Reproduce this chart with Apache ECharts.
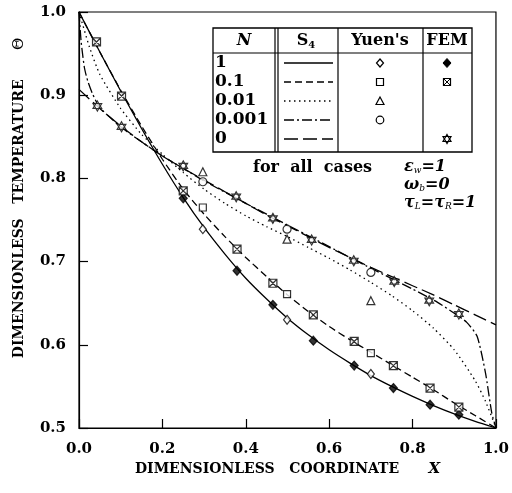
<!DOCTYPE html>
<html>
<head>
<meta charset="utf-8">
<script src="https://cdn.jsdelivr.net/npm/echarts@6/dist/echarts.min.js"></script>
<style>html,body{margin:0;padding:0;background:#fff}#main{width:512px;height:493px}</style>
</head>
<body>
<div id="main"></div>
<script>
var FONT = "'DejaVu Serif', serif";

// S4 curves
var xGrid = [0, 0.05, 0.1, 0.15, 0.2, 0.25, 0.3, 0.35, 0.4, 0.45, 0.5, 0.55, 0.6, 0.65, 0.7, 0.75, 0.8, 0.85, 0.9, 0.95, 1.0];
var s4N1  = [1.000, 0.952, 0.905, 0.860, 0.817, 0.777, 0.741, 0.709, 0.680, 0.655, 0.632, 0.612, 0.594, 0.578, 0.563, 0.550, 0.538, 0.527, 0.517, 0.508, 0.500];
var s4N01 = [1.000, 0.952, 0.906, 0.863, 0.823, 0.787, 0.757, 0.730, 0.705, 0.682, 0.660, 0.640, 0.622, 0.606, 0.591, 0.576, 0.561, 0.546, 0.530, 0.515, 0.500];
var s4N0  = [0.907, 0.884, 0.863, 0.844, 0.827, 0.812, 0.798, 0.784, 0.770, 0.756, 0.743, 0.730, 0.717, 0.705, 0.693, 0.682, 0.671, 0.660, 0.648, 0.636, 0.624];
var dotX   = [0, 0.025, 0.05, 0.1, 0.15, 0.2, 0.25, 0.3, 0.35, 0.4, 0.45, 0.5, 0.55, 0.6, 0.65, 0.7, 0.75, 0.8, 0.85, 0.9, 0.95, 0.975, 1.0];
var s4N001 = [1.000, 0.958, 0.925, 0.884, 0.853, 0.829, 0.807, 0.787, 0.770, 0.755, 0.742, 0.730, 0.717, 0.704, 0.690, 0.675, 0.659, 0.641, 0.620, 0.594, 0.557, 0.532, 0.500];
var dashDotX = [0, 0.005, 0.013, 0.021, 0.033, 0.05, 0.1, 0.15, 0.2, 0.25, 0.3, 0.4, 0.5, 0.6, 0.7, 0.8, 0.86, 0.9, 0.93, 0.955, 0.975, 0.99, 1.0];
var s4N0001  = [1.000, 0.965, 0.933, 0.917, 0.901, 0.885, 0.862, 0.844, 0.827, 0.812, 0.797, 0.770, 0.744, 0.718, 0.692, 0.667, 0.651, 0.638, 0.627, 0.610, 0.566, 0.518, 0.500];

// Yuen's points
var yuenX     = [0.297, 0.499, 0.700];
var yuenN1    = [0.739, 0.630, 0.565];
var yuenN01   = [0.765, 0.661, 0.590];
var yuenN001  = [0.808, 0.727, 0.653];
var yuenN0001 = [0.796, 0.739, 0.687];

// FEM points
var femN1X  = [0.25, 0.379, 0.465, 0.562, 0.66, 0.754, 0.842, 0.911];
var femN1   = [0.776, 0.689, 0.648, 0.605, 0.575, 0.548, 0.528, 0.516];
var femN01X = [0.042, 0.102, 0.25, 0.379, 0.465, 0.562, 0.66, 0.754, 0.842, 0.911];
var femN01  = [0.964, 0.899, 0.785, 0.715, 0.674, 0.636, 0.604, 0.575, 0.548, 0.525];
var femN0X  = [0.044, 0.102, 0.25, 0.377, 0.465, 0.558, 0.659, 0.756, 0.84, 0.911];
var femN0   = [0.887, 0.862, 0.815, 0.778, 0.752, 0.726, 0.701, 0.676, 0.653, 0.637];

var rowLabels = ['1', '0.1', '0.01', '0.001', '0'];

function pts(xs, ys) {
    return xs.map(function (x, i) { return [x, ys[i]]; });
}

var BOXX = 'path://M0,0H10V10H0Z M0,0L10,10 M10,0L0,10';
var STAR = 'path://M5,0L9.33,7.5L0.67,7.5Z M5,10L0.67,2.5L9.33,2.5Z';

var chart = echarts.init(document.getElementById('main'));

function curve(data, dash) {
    return {
        type: 'line', data: data, symbol: 'none', smooth: 0.2,
        silent: true, z: 2,
        lineStyle: { color: '#000', width: 1.3, type: dash }
    };
}
function marks(data, symbol, size, fill) {
    return {
        type: 'scatter', data: data, symbol: symbol, symbolSize: size, symbolKeepAspect: true,
        silent: true, z: 5,
        itemStyle: { color: fill, borderColor: '#000', borderWidth: 1.2 }
    };
}

// table drawn as graphic
var g = [];
function line(x1, y1, x2, y2, dash, w) {
    g.push({ type: 'line', shape: { x1: x1, y1: y1, x2: x2, y2: y2 },
        style: { stroke: '#000', lineWidth: w || 1.2, lineDash: dash || null } });
}
function text(x, y, t, opt) {
    var st = { text: t, x: 0, y: 0, fontFamily: FONT, fontSize: 16, fontWeight: 'bold', fill: '#000',
        align: 'left', verticalAlign: 'middle' };
    for (var k in opt) st[k] = opt[k];
    g.push({ type: 'text', x: x, y: y, style: st });
}
var tL = 213, tR = 472, tT = 28, tB = 152, hB = 53;
g.push({ type: 'rect', shape: { x: tL, y: tT, width: tR - tL, height: tB - tT }, style: { fill: '#fff', stroke: '#000', lineWidth: 1.3 } });
line(tL, hB, tR, hB);
line(275, tT, 275, tB);
line(278, tT, 278, tB);
line(338, tT, 338, tB);
line(423, tT, 423, tB);
text(244, 41, 'N', { align: 'center', fontStyle: 'italic' });
text(306, 41, 'S{s|4}', { align: 'center', rich: { s: { fontSize: 10, fontWeight: 'bold', fontFamily: FONT, verticalAlign: 'bottom', padding: [8, 0, 0, 0] } } });
text(380, 41, "Yuen's", { align: 'center' });
text(447, 41, 'FEM', { align: 'center' });
var dashes = [null, [7, 4], [1.5, 3.5], [10, 3, 2, 3], [14, 5]];
rowLabels.forEach(function (lab, i) {
    var y = 63 + 19 * i;
    text(215, y, lab, { fontSize: 17 });
    line(284, y, 333, y, dashes[i], 1.3);
});
// Yuen's symbols
var yc = 380;
g.push({ type: 'polygon', shape: { points: [[yc, 59], [yc + 3.5, 63], [yc, 67], [yc - 3.5, 63]] }, style: { fill: '#fff', stroke: '#000', lineWidth: 1.2 } });
g.push({ type: 'rect', shape: { x: yc - 3.5, y: 78.5, width: 7, height: 7 }, style: { fill: '#fff', stroke: '#000', lineWidth: 1.2 } });
g.push({ type: 'polygon', shape: { points: [[yc, 97], [yc + 4, 104.5], [yc - 4, 104.5]] }, style: { fill: '#fff', stroke: '#000', lineWidth: 1.2 } });
g.push({ type: 'circle', shape: { cx: yc, cy: 120, r: 3.8 }, style: { fill: '#fff', stroke: '#000', lineWidth: 1.2 } });
// FEM symbols
var fc = 447;
g.push({ type: 'polygon', shape: { points: [[fc, 58.5], [fc + 4, 63], [fc, 67.5], [fc - 4, 63]] }, style: { fill: '#000', stroke: '#000', lineWidth: 1 } });
g.push({ type: 'rect', shape: { x: fc - 3.5, y: 78.5, width: 7, height: 7 }, style: { fill: '#fff', stroke: '#000', lineWidth: 1.2 } });
line(fc - 3.5, 78.5, fc + 3.5, 85.5, null, 1);
line(fc + 3.5, 78.5, fc - 3.5, 85.5, null, 1);
g.push({ type: 'polygon', shape: { points: [[fc, 134.5], [fc + 4, 141.5], [fc - 4, 141.5]] }, style: { fill: '#fff', stroke: '#000', lineWidth: 1.2 } });
g.push({ type: 'polygon', shape: { points: [[fc, 143.5], [fc - 4, 136.5], [fc + 4, 136.5]] }, style: { fill: 'none', stroke: '#000', lineWidth: 1.2 } });
// notes
text(253, 168, 'for  all  cases', {});
var greek = { fontWeight: 'bold', fontStyle: 'italic', fontSize: 16,
    rich: { s: { fontSize: 9, fontFamily: FONT, fontStyle: 'italic', verticalAlign: 'bottom', padding: [7, 0, 0, 0] } } };
text(404, 167, 'ε{s|w}=1', greek);
text(404, 185, 'ω{s|b}=0', greek);
text(404, 203, 'τ{s|L}=τ{s|R}=1', greek);

var option = {
    backgroundColor: '#fff',
    animation: false,
    grid: { left: 79, right: 15, top: 12, bottom: 65, show: true, borderColor: '#000', borderWidth: 1.2, backgroundColor: 'transparent' },
    xAxis: {
        type: 'value', min: 0, max: 1, interval: 0.2,
        axisLine: { lineStyle: { color: '#000', width: 1.2 } },
        axisTick: { inside: true, length: 9, lineStyle: { color: '#000', width: 1.2 } },
        splitLine: { show: false },
        axisLabel: { color: '#000', fontFamily: FONT, fontSize: 15, fontWeight: 'bold', margin: 14,
            formatter: function (v) { return v.toFixed(1); } },
        name: 'DIMENSIONLESS   COORDINATE      {i|X}',
        nameLocation: 'middle', nameGap: 32,
        nameTextStyle: { color: '#000', fontFamily: FONT, fontSize: 14, fontWeight: 'bold',
            rich: { i: { fontFamily: FONT, fontSize: 15, fontStyle: 'italic', fontWeight: 'bold' } } }
    },
    yAxis: {
        type: 'value', min: 0.5, max: 1.0, interval: 0.1,
        axisLine: { lineStyle: { color: '#000', width: 1.2 } },
        axisTick: { inside: true, length: 9, lineStyle: { color: '#000', width: 1.2 } },
        splitLine: { show: false },
        axisLabel: { color: '#000', fontFamily: FONT, fontSize: 15, fontWeight: 'bold', margin: 13,
            formatter: function (v) { return v.toFixed(1); } },
        name: 'DIMENSIONLESS   TEMPERATURE      {i|Θ}',
        nameLocation: 'middle', nameGap: 52,
        nameTextStyle: { color: '#000', fontFamily: FONT, fontSize: 14, fontWeight: 'bold', padding: [0, 0, 0, 44],
            rich: { i: { fontFamily: FONT, fontSize: 15, fontWeight: 'normal' } } }
    },
    series: [
        curve(pts(xGrid, s4N1), 'solid'),
        curve(pts(xGrid, s4N01), [7, 4]),
        curve(pts(dotX, s4N001), [1.5, 3.5]),
        curve(pts(dashDotX, s4N0001), [10, 3, 2, 3]),
        curve(pts(xGrid, s4N0), [14, 5]),
        marks(pts(yuenX, yuenN1), 'diamond', [7, 9], '#fff'),
        marks(pts(yuenX, yuenN01), 'rect', 7, '#fff'),
        marks(pts(yuenX, yuenN001), 'triangle', 8, '#fff'),
        marks(pts(yuenX, yuenN0001), 'circle', 8, '#fff'),
        marks(pts(femN1X, femN1), 'diamond', [8, 9], '#000'),
        marks(pts(femN01X, femN01), BOXX, 8, '#fff'),
        marks(pts(femN0X, femN0), STAR, 10, '#fff')
    ],
    graphic: g
};
chart.setOption(option);
</script>
</body>
</html>
